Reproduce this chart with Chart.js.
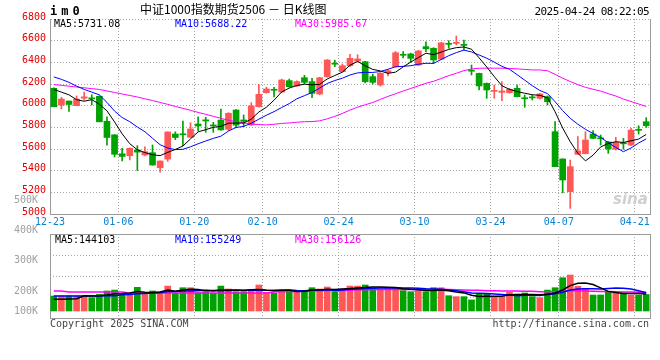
<!DOCTYPE html>
<html>
<head>
<meta charset="utf-8">
<script src="https://cdn.jsdelivr.net/npm/chart.js@4.4.1/dist/chart.umd.min.js"></script>
<style>
  body { margin: 0; background: #fff; }
  #wrap { position: relative; width: 660px; height: 360px; overflow: hidden; font-family: "DejaVu Sans Mono", monospace; font-size: 10px; }
  canvas { position: absolute; left: 0; top: 0; }
  .t { position: absolute; white-space: pre; line-height: 1; }
</style>
</head>
<body>
<div id="wrap">
  <canvas id="kline" width="660" height="360"></canvas>
  <canvas id="vol" width="660" height="360"></canvas>
  <div class="t" style="left:50px;top:5px;font-size:12px;font-weight:bold;letter-spacing:4px">im0</div>
  <div class="t" style="left:140px;top:3px;font-size:12px;font-family:'Noto Sans CJK SC',sans-serif">中证1000指数期货2506 － 日K线图</div>
  <div class="t" style="right:11px;top:6px;font-size:11px;letter-spacing:-0.6px">2025-04-24 08:22:05</div>
  <div class="t" style="left:54px;top:19px">MA5:5731.08</div>
  <div class="t" style="left:175px;top:19px;color:#0000ff">MA10:5688.22</div>
  <div class="t" style="left:295px;top:19px;color:#ff00ff">MA30:5985.67</div>
  <div class="t" style="left:55px;top:235px">MA5:144103</div>
  <div class="t" style="left:175px;top:235px;color:#0000ff">MA10:155249</div>
  <div class="t" style="left:295px;top:235px;color:#ff00ff">MA30:156126</div>
  <div class="t" style="left:50px;top:319px;color:#444">Copyright 2025 SINA.COM</div>
  <div class="t" style="right:11px;top:319px;color:#444">http://finance.sina.com.cn</div>
  <div class="t" style="left:613px;top:192px;font-family:'DejaVu Sans',sans-serif;font-size:15px;font-style:italic;font-weight:bold;color:#cfcfcf">sina</div>
</div>
<script>
// trading days shown (12-24 .. 04-23)
const dates = ['12-24','12-25','12-26','12-27','12-30','12-31','01-02','01-03','01-06','01-07',
  '01-08','01-09','01-10','01-13','01-14','01-15','01-16','01-17','01-20','01-21',
  '01-22','01-23','01-24','01-27','02-05','02-06','02-07','02-10','02-11','02-12',
  '02-13','02-14','02-17','02-18','02-19','02-20','02-21','02-24','02-25','02-26',
  '02-27','02-28','03-03','03-04','03-05','03-06','03-07','03-10','03-11','03-12',
  '03-13','03-14','03-17','03-18','03-19','03-20','03-21','03-24','03-25','03-26',
  '03-27','03-28','03-31','04-01','04-02','04-03','04-07','04-08','04-09','04-10',
  '04-11','04-14','04-15','04-16','04-17','04-18','04-21','04-22','04-23'];
const prevDate = '12-23';
const tickDates = ['12-23','01-06','01-20','02-10','02-24','03-10','03-24','04-07','04-21'];

const opens = [6160,6006,6043,6000,6069,6071,6086,5856,5731,5556,
  5538,5591,5545,5566,5427,5507,5738,5739,5708,5831,
  5869,5821,5867,5782,5960,5868,5822,5991,6120,6151,
  6126,6231,6182,6258,6222,6108,6268,6391,6314,6369,
  6412,6406,6268,6191,6305,6360,6470,6478,6375,6545,
  6530,6430,6575,6575,6566,6328,6298,6206,6132,6123,
  6120,6160,6072,6078,6068,6083,5760,5508,5206,5551,
  5557,5738,5702,5665,5597,5656,5637,5778,5852];
const highs = [6165,6077,6043,6090,6125,6101,6091,5896,5733,5606,
  5611,5631,5621,5637,5491,5759,5759,5858,5843,5898,
  5893,5846,5969,5935,5965,5914,6028,6197,6170,6170,
  6245,6245,6230,6280,6252,6262,6425,6420,6385,6475,
  6470,6410,6290,6305,6330,6500,6500,6485,6510,6590,
  6535,6585,6600,6643,6606,6375,6300,6210,6191,6222,
  6160,6191,6098,6098,6114,6090,5852,5510,5498,5714,
  5760,5770,5729,5670,5708,5698,5791,5815,5889];
const lows = [5990,5970,5946,5999,6051,6006,5851,5636,5526,5491,
  5499,5401,5536,5451,5386,5486,5686,5630,5706,5766,
  5754,5754,5773,5770,5800,5806,5815,5985,6115,6080,
  6120,6170,6178,6200,6074,6100,6262,6360,6310,6360,
  6405,6210,6200,6180,6275,6355,6440,6400,6370,6498,
  6390,6425,6530,6560,6514,6283,6145,6068,6068,6046,
  6115,6080,5985,6052,6060,6006,5437,5195,5052,5550,
  5555,5695,5637,5560,5590,5597,5630,5738,5800];
const closes = [5990,6061,6011,6061,6081,6063,5851,5706,5551,5531,
  5606,5571,5575,5452,5489,5757,5706,5731,5785,5812,
  5859,5813,5776,5930,5820,5855,5997,6105,6154,6142,
  6237,6175,6222,6215,6114,6258,6422,6383,6369,6437,
  6431,6222,6215,6299,6323,6489,6465,6437,6505,6525,
  6422,6580,6566,6585,6556,6318,6182,6145,6140,6135,
  6151,6083,6064,6072,6108,6037,5437,5314,5437,5582,
  5683,5698,5694,5600,5661,5648,5775,5772,5815];
const volumes = [127000,130000,130000,130000,130000,113000,142000,170000,178000,140000,
  136000,201000,141000,170000,164000,212000,150000,198000,198000,156000,
  164000,150000,212000,187000,164000,164000,178000,221000,158000,150000,
  178000,178000,170000,164000,198000,187000,204000,164000,187000,212000,
  212000,221000,193000,187000,198000,198000,173000,164000,173000,164000,
  198000,198000,130000,122000,122000,94000,145000,145000,122000,122000,
  159000,145000,153000,122000,113000,178000,198000,283000,306000,210000,
  193000,136000,136000,159000,159000,150000,136000,136000,140000];

// averages at the left edge need days before the window
const ma5Head = [6150,6125,6100,6055];
const ma10Head = [6265,6243,6215,6180,6150,6125,6100,6030,5950];
const ma30Head = [6195,6188,6180,6172,6165,6157,6150,6136,6122,6108,
  6094,6080,6063,6047,6030,6012,5993,5975,5957,5938,
  5920,5902,5883,5865,5853,5841,5830,5826,5822];
const vma5Head = [100000,100000,102000,105000];
const vma10Head = [127000,127000,127000,127000,127000,128000,128000,130000,130000];
const vma30Head = [170000,170000,162000,162000,162000,162000,162000,162000,162000,162000,
  152000,152000,152000,152000,152000,152000,152000,152000,152000,152000,
  152000,152000,152000,152000,152000,152000,152000,152000,152000];

const volTickValues = [0, 170000, 433500, 688500, 943500];
const volTickLabels = ['100K','200K','300K','400K','500K'];
const volGridValues = [119000, 297500, 476000];

const RED = '#ff5656';
const GREEN = '#00a200';
const GRID = '#a8a8a8';
const FRAME = '#9a9a9a';
const FONT = { family: 'DejaVu Sans Mono', size: 10 };

function movingAvg(values, n, head) {
  return values.map((v, i) => {
    if (i < n - 1) return head[i];
    let s = 0;
    for (let k = i - n + 1; k <= i; k++) s += values[k];
    return s / n;
  });
}

function tickText(i) {
  if (i === undefined) return '';
  const d = i === 0 ? prevDate : dates[i - 1];
  return tickDates.includes(d) ? d : '';
}

const colors = dates.map((d, i) => closes[i] >= opens[i] ? RED : GREEN);
const slot = 600 / dates.length;

function maLine(data, color, width) {
  return { type: 'line', data, borderColor: color, borderWidth: width, pointRadius: 0, tension: 0, fill: false };
}

const xGrid = { offset: true, drawTicks: false, color: c => tickText(c.index) ? GRID : 'rgba(0,0,0,0)' };

new Chart(document.getElementById('kline'), {
  type: 'bar',
  data: {
    labels: dates,
    datasets: [
      maLine(movingAvg(closes, 5, ma5Head), '#000000', 1),
      maLine(movingAvg(closes, 10, ma10Head), '#0000ff', 1),
      maLine(movingAvg(closes, 30, ma30Head), '#ff00ff', 1),
      { data: dates.map((d, i) => [opens[i], closes[i]]), backgroundColor: colors, barThickness: 6, minBarLength: 1, grouped: false },
      { data: dates.map((d, i) => [lows[i], highs[i]]), backgroundColor: colors, barThickness: 1, grouped: false }
    ]
  },
  options: {
    responsive: false,
    animation: false,
    devicePixelRatio: 1,
    layout: { padding: { top: 19, right: 10, left: 0, bottom: 0 } },
    plugins: { legend: { display: false }, tooltip: { enabled: false } },
    scales: {
      x: {
        offset: true,
        grid: xGrid,
        border: { color: FRAME, dash: [1, 2] },
        ticks: { autoSkip: false, maxRotation: 0, labelOffset: -slot / 2, padding: 2, color: '#0a82d2', font: FONT, callback: (v, i) => tickText(i) },
        afterFit: s => { s.height = 146; }
      },
      y: {
        min: 5000, max: 6800,
        ticks: { stepSize: 200, color: '#e00000', padding: 4, labelOffset: -2, font: FONT, callback: v => String(v) },
        grid: { color: GRID, drawTicks: false },
        border: { color: FRAME, dash: [1, 2] },
        afterFit: s => { s.width = 50; }
      },
      yr: {
        position: 'right', min: 5000, max: 6800,
        ticks: { display: false }, grid: { display: false },
        border: { color: FRAME },
        afterFit: s => { s.width = 0; }
      }
    }
  }
});

new Chart(document.getElementById('vol'), {
  type: 'bar',
  data: {
    labels: dates,
    datasets: [
      maLine(movingAvg(volumes, 5, vma5Head), '#000000', 1.5),
      maLine(movingAvg(volumes, 10, vma10Head), '#0000ff', 1.5),
      maLine(movingAvg(volumes, 30, vma30Head), '#ff00ff', 1.5),
      { data: volumes, backgroundColor: colors, barThickness: 6, grouped: false }
    ]
  },
  options: {
    responsive: false,
    animation: false,
    devicePixelRatio: 1,
    layout: { padding: { top: 234, right: 10, left: 0, bottom: 0 } },
    plugins: { legend: { display: false }, tooltip: { enabled: false } },
    scales: {
      x: {
        offset: true,
        grid: xGrid,
        border: { color: FRAME, dash: [1, 2] },
        ticks: { display: false },
        afterFit: s => { s.height = 42; }
      },
      xt: {
        type: 'category', position: 'top',
        grid: { display: false }, ticks: { display: false },
        border: { color: FRAME },
        afterFit: s => { s.height = 0; }
      },
      y: {
        min: -59500, max: 654500,
        afterBuildTicks: s => { s.ticks = volTickValues.map(v => ({ value: v })); },
        ticks: { autoSkip: false, color: '#a0a0a0', padding: 4, font: FONT, callback: v => volTickLabels[volTickValues.indexOf(v)] },
        grid: { display: false },
        border: { color: FRAME },
        afterFit: s => { s.width = 50; }
      },
      yg: {
        position: 'left', min: -59500, max: 654500,
        afterBuildTicks: s => { s.ticks = volGridValues.map(v => ({ value: v })); },
        ticks: { display: false },
        grid: { color: GRID, drawTicks: false },
        border: { display: false, dash: [1, 2] },
        afterFit: s => { s.width = 0; }
      },
      yr: {
        position: 'right', min: -59500, max: 654500,
        ticks: { display: false }, grid: { display: false },
        border: { color: FRAME },
        afterFit: s => { s.width = 0; }
      }
    }
  }
});
</script>
</body>
</html>
